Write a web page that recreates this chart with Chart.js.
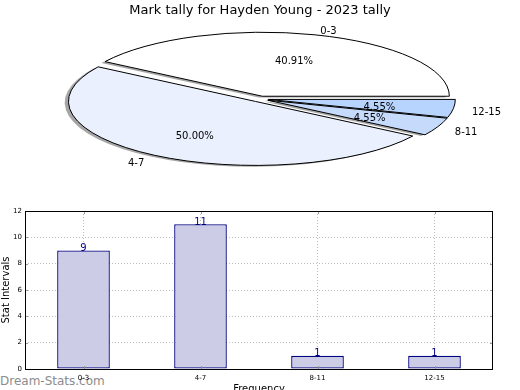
<!DOCTYPE html>
<html>
<head>
<meta charset="utf-8">
<script src="https://cdn.jsdelivr.net/npm/chart.js@4/dist/chart.umd.min.js"></script>
<style>
  html, body { margin: 0; padding: 0; width: 520px; height: 390px; overflow: hidden; background: #fff; }
  #pie { position: absolute; left: 0; top: 0; z-index: 2; }
  #bar { position: absolute; left: 0; top: 190px; z-index: 2; }
  #wm { position: absolute; left: 0; top: 374px; z-index: 1; font: 12px "DejaVu Sans", sans-serif; color: #8c8c8c; white-space: nowrap; }
</style>
</head>
<body>
<div id="wm">Dream-Stats.com</div>
<canvas id="pie" width="520" height="200"></canvas>
<canvas id="bar" width="520" height="210"></canvas>
<script>
// ---- data ----
const categories = ['0-3', '4-7', '8-11', '12-15'];
const counts = [9, 11, 1, 1];
const sliceColors = ['#ffffff', '#eaf0fd', '#c6dafc', '#b6d4fd'];
const yTicks = [0, 2, 4, 6, 8, 10, 12];
const chartTitle = 'Mark tally for Hayden Young - 2023 tally';
const yTitle = 'Stat Intervals';
const xTitle = 'Frequency';

const FONT = '"DejaVu Sans", sans-serif';

// ---- pie as ellipse ----
const CX = 260, CY = 99, RX = 187, RY = 64, EXPLODE = 0.045, SHADOW = 0.02, TEXT_DY = 2.5;

const ellipsePlugin = {
  id: 'ellipse',
  beforeDatasetsDraw(chart) {
    const arcs = chart.getDatasetMeta(0).data;
    const R = arcs[0].outerRadius, x0 = arcs[0].x, y0 = arcs[0].y;
    const ctx = chart.ctx;
    ctx.save();
    ctx.translate(CX, CY);
    ctx.scale(RX / R, -RY / R);
    ctx.translate(-x0, -y0);
    arcs.forEach(a => {
      a._ox = a.x; a._oy = a.y;
      const m = (a.startAngle + a.endAngle) / 2;
      a.x += Math.cos(m) * EXPLODE * R;
      a.y += Math.sin(m) * EXPLODE * R;
    });
    const origStroke = CanvasRenderingContext2D.prototype.stroke;
    ctx.stroke = function () {
      this.save(); this.setTransform(1, 0, 0, 1, 0, 0);
      origStroke.apply(this, arguments);
      this.restore();
    };
    // shadow pass
    arcs.forEach(a => {
      const o = a.options;
      ctx.save();
      ctx.translate(-SHADOW * R, -SHADOW * R);
      a.options = Object.assign({}, o, { backgroundColor: 'rgba(77,77,77,0.5)', borderWidth: 0 });
      a.draw(ctx);
      a.options = o;
      ctx.restore();
    });
  },
  afterDatasetsDraw(chart) {
    const arcs = chart.getDatasetMeta(0).data;
    arcs.forEach(a => { a.x = a._ox; a.y = a._oy; });
    delete chart.ctx.stroke;
    chart.ctx.restore();
  },
  afterDraw(chart) {
    const ctx = chart.ctx;
    const arcs = chart.getDatasetMeta(0).data;
    const vals = chart.data.datasets[0].data;
    const total = vals.reduce((s, v) => s + v, 0);
    ctx.save();
    ctx.font = '10px ' + FONT;
    ctx.fillStyle = '#000';
    ctx.textBaseline = 'middle';
    arcs.forEach((a, i) => {
      const m = (a.startAngle + a.endAngle) / 2;
      const c = Math.cos(m), s = Math.sin(m);
      const ex = CX + EXPLODE * RX * c, ey = CY - EXPLODE * RY * s + TEXT_DY;
      ctx.textAlign = c > 0 ? 'left' : 'right';
      ctx.fillText(chart.data.labels[i], ex + 1.1 * RX * c, ey - 1.1 * RY * s);
      ctx.textAlign = 'center';
      ctx.fillText((vals[i] / total * 100).toFixed(2) + '%', ex + 0.6 * RX * c, ey - 0.6 * RY * s);
    });
    ctx.restore();
  }
};

new Chart(document.getElementById('pie'), {
  type: 'pie',
  data: {
    labels: categories,
    datasets: [{
      data: counts,
      backgroundColor: sliceColors,
      borderColor: '#000000',
      borderWidth: 1,
      clip: false
    }]
  },
  options: {
    responsive: false,
    animation: false,
    rotation: 90,
    plugins: {
      legend: { display: false },
      tooltip: { enabled: false },
      title: {
        display: true,
        text: chartTitle,
        color: '#000',
        font: { family: FONT, size: 13, weight: 'normal' },
        padding: { top: 3, bottom: 4 }
      }
    }
  },
  plugins: [ellipsePlugin]
});

// ---- bar chart ----
const frameTicksPlugin = {
  id: 'frameTicks',
  afterDatasetsDraw(chart) {
    const { ctx, chartArea: a } = chart;
    const ys = chart.scales.y, xs = chart.scales.x;
    ctx.save();
    ctx.strokeStyle = '#999';
    ctx.lineWidth = 1;
    ctx.beginPath();
    ys.ticks.forEach((t, i) => {
      const y = Math.round(ys.getPixelForTick(i)) + 0.5;
      ctx.moveTo(a.left, y); ctx.lineTo(a.left + 3, y);
      ctx.moveTo(a.right, y); ctx.lineTo(a.right - 3, y);
    });
    xs.ticks.forEach((t, i) => {
      const x = Math.round(xs.getPixelForTick(i)) + 0.5;
      ctx.moveTo(x, a.bottom); ctx.lineTo(x, a.bottom - 3);
      ctx.moveTo(x, a.top); ctx.lineTo(x, a.top + 3);
    });
    ctx.stroke();
    ctx.strokeStyle = '#000';
    ctx.strokeRect(Math.round(a.left) + 0.5, Math.round(a.top) + 0.5,
                   Math.round(a.right - a.left) - 1, Math.round(a.bottom - a.top));
    ctx.fillStyle = '#000080';
    ctx.font = '10px ' + FONT;
    ctx.textAlign = 'center';
    ctx.textBaseline = 'alphabetic';
    chart.getDatasetMeta(0).data.forEach((b, i) => {
      ctx.fillText(String(chart.data.datasets[0].data[i]), b.x, b.y + 0.5);
    });
    ctx.restore();
  }
};

new Chart(document.getElementById('bar'), {
  type: 'bar',
  data: {
    labels: categories,
    datasets: [{
      data: counts,
      backgroundColor: '#ccccE6',
      borderColor: '#000080',
      borderWidth: 1.3,
      borderSkipped: false,
      barPercentage: 0.45,
      categoryPercentage: 1.0
    }]
  },
  options: {
    responsive: false,
    animation: false,
    layout: { padding: { top: 21, right: 27, left: 0, bottom: 0 } },
    plugins: {
      legend: { display: false },
      tooltip: { enabled: false },
      title: { display: false }
    },
    scales: {
      x: {
        afterFit(s) { s.height = 31; },
        grid: { offset: false, drawTicks: false, color: '#bdbdbd', lineWidth: 1 },
        border: { display: false, dash: [1, 2] },
        ticks: { color: '#000', font: { family: FONT, size: 7 }, padding: 5, maxRotation: 0, autoSkip: false },
        title: { display: true, text: xTitle, color: '#000', font: { family: FONT, size: 10 }, padding: { top: 0, bottom: 5 } }
      },
      y: {
        min: 0, max: 12,
        afterFit(s) { s.width = 25; },
        afterBuildTicks(s) { s.ticks = yTicks.map(v => ({ value: v })); },
        grid: { drawTicks: false, color: '#bdbdbd', lineWidth: 1 },
        border: { display: false, dash: [1, 2] },
        ticks: { color: '#000', font: { family: FONT, size: 7 }, padding: 3 },
        title: { display: true, text: yTitle, color: '#000', font: { family: FONT, size: 10 }, padding: { top: 0, bottom: 0 } }
      }
    }
  },
  plugins: [frameTicksPlugin]
});
</script>
</body>
</html>
